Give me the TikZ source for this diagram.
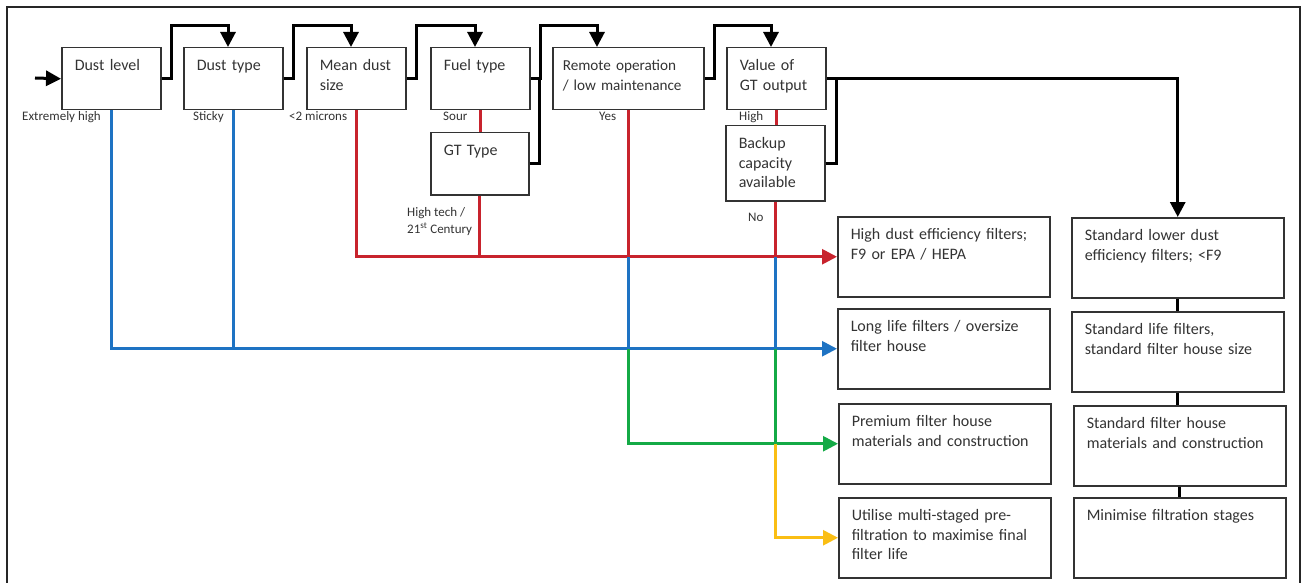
\documentclass[tikz,border=0pt]{standalone}
\usepackage{fontspec}
\setmainfont{Carlito}
\usepackage{tikz}
\usetikzlibrary{arrows.meta}

\definecolor{redline}{RGB}{200,35,45}
\definecolor{blueline}{RGB}{30,115,195}
\definecolor{greenline}{RGB}{20,170,70}
\definecolor{yellowline}{RGB}{250,190,20}
\newcommand\boxfont{\fontsize{16}{19.8}\selectfont}
\newcommand\lblfont{\fontsize{13}{17}\selectfont}

\begin{document}
\begin{tikzpicture}[x=1pt, y=-1pt,
    qbox/.style 2 args={draw=black!80, line width=1.5pt, anchor=north west, align=left,
        inner xsep=13pt, inner ysep=0pt, text width=#1, text height=22.5pt, text depth=#2,
        font=\boxfont, text=black!80},
    lbl/.style={anchor=base west, inner sep=0pt, font=\lblfont, text=black!80},
    tip/.style={-{Triangle[length=15pt,width=15pt]}},
    link/.style={draw=black, line width=3pt},
    flow/.style={link, tip},
    rline/.style={draw=redline, line width=2.7pt},
    bline/.style={draw=blueline, line width=2.7pt},
    gline/.style={draw=greenline, line width=2.7pt},
    yline/.style={draw=yellowline, line width=2.7pt}]
    \useasboundingbox (0,0) rectangle (1304,583);
    % frame
    \draw[black!85, line width=2pt] (7,583) -- (7,7) -- (1300,7) -- (1300,583);

    % questions
    \foreach \n/\x/\t in {dl/61/{Dust level}, dt/183/{Dust type}, ms/306/{Mean dust\\size},
                          ft/430/{Fuel type}, vo/726/{Value of\\GT output}} {
        \node[qbox={73pt}{39.5pt}] (\n) at (\x,47) {\t};
    }
    \node[qbox={131pt}{39.5pt}, inner xsep=10pt, font=\fontsize{15.2}{19.8}\selectfont] (rm) at (552,47) {Remote operation\\/ low maintenance};
    \node[qbox={72pt}{39.5pt}] (gt) at (430,132) {GT Type};
    \node[qbox={73pt}{52.5pt}] (bc) at (725,125) {Backup\\capacity\\available};

    % outcomes
    \foreach \n/\x/\y/\t in {hd/837/216/{High dust efficiency filters;\\F9 or EPA / HEPA},
                             ll/837/308/{Long life filters / oversize\\filter house},
                             pf/838/403/{Premium filter house\\materials and construction},
                             ut/838/497/{Utilise multi-staged pre-\\filtration to maximise final\\filter life},
                             sl/1071/217/{Standard lower dust\\efficiency filters; <F9},
                             sf/1071/311/{Standard life filters,\\standard filter house size},
                             sh/1073/405/{Standard filter house\\materials and construction},
                             mf/1073/497/{Minimise filtration stages}} {
        \node[qbox={186pt}{57.5pt}] (\n) at (\x,\y) {\t};
    }

    % answers
    \node[lbl] (l1) at (22,121) {Extremely high};
    \node[lbl] (l2) at (193,121) {Sticky};
    \node[lbl] (l3) at (289,121) {<2 microns};
    \node[lbl] (l4) at (443,121) {Sour};
    \node[lbl] (l5) at (599,121) {Yes};
    \node[lbl] (l6) at (739,121) {High};
    \node[lbl] (l7) at (407,216) {High tech /};
    \node[lbl] (l8) at (407,233) {21\textsuperscript{st} Century};
    \node[lbl] (l9) at (748,221) {No};

    % question chain
    \coordinate (in) at (35,78);
    \draw[flow] (in) -- (dl.west);
    \foreach \a/\b in {dl/dt, dt/ms, ms/ft, ft/rm, rm/vo} {
        \draw[flow] (\a.east) -- ++(10,0) |- ([xshift=45pt,yshift=21pt]\b.north west) -- ([xshift=45pt]\b.north west);
    }
    \draw[link] (gt.east) -- ++(10,0) |- (ft.east);
    \draw[flow] (vo.east) -| (sl.north);
    \draw[link] (bc.east) -- ++(11,0) |- (vo.east);
    \foreach \a/\b in {sl/sf, sf/sh, sh/mf} {
        \draw[link] (\a.south) -- (\a.south |- \b.north);
    }

    % red
    \draw[rline] (ft.south) -- (ft.south |- gt.north);
    \draw[rline] (vo.south) -- (vo.south |- bc.north);
    \draw[rline] (gt.south) -- (gt.south |- hd.west);
    \draw[rline] (rm.south) -- (rm.south |- hd.west);
    \draw[rline] (bc.south) -- (bc.south |- hd.west);
    \draw[rline, tip] (ms.south) |- (hd.west);
    % blue
    \draw[bline] (dt.south) -- (dt.south |- ll.west);
    \draw[bline] (rm.south |- hd.west) -- (rm.south |- ll.west);
    \draw[bline] (bc.south |- hd.west) -- (bc.south |- ll.west);
    \draw[bline, tip] (dl.south) |- (ll.west);
    % green
    \draw[gline] (bc.south |- ll.west) -- (bc.south |- pf.west);
    \draw[gline, tip] (rm.south |- ll.west) |- (pf.west);
    % yellow
    \draw[yline, tip] (bc.south |- pf.west) |- (ut.west);
\end{tikzpicture}
\end{document}
